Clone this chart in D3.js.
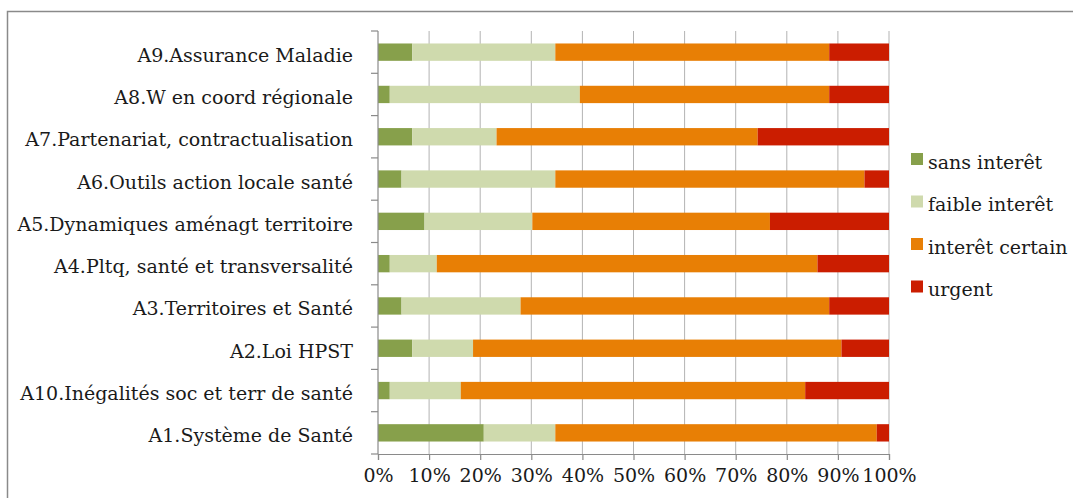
<!DOCTYPE html>
<html>
<head>
<meta charset="utf-8">
<script src="https://cdn.jsdelivr.net/npm/d3@7"></script>
<style>
  body { margin: 0; background: #fff; }
  svg text { font-family: "DejaVu Serif", serif; fill: #1a1a1a; }
</style>
</head>
<body>
<svg width="1073" height="498" class="chart"></svg>
<script>
// categories top to bottom
var categories = [
  "A9.Assurance Maladie",
  "A8.W en coord régionale",
  "A7.Partenariat, contractualisation",
  "A6.Outils action locale santé",
  "A5.Dynamiques aménagt territoire",
  "A4.Pltq, santé et transversalité",
  "A3.Territoires et Santé",
  "A2.Loi HPST",
  "A10.Inégalités soc et terr de santé",
  "A1.Système de Santé"
];
var seriesNames = ["sans interêt", "faible interêt", "interêt certain", "urgent"];
var sansInteret    = [6.7, 2.3, 6.7, 4.6, 9.1, 2.3, 4.6, 6.7, 2.3, 20.7];
var faibleInteret  = [28.0, 37.2, 16.5, 30.1, 21.1, 9.2, 23.3, 11.9, 13.9, 14.0];
var interetCertain = [53.6, 48.8, 51.1, 60.5, 46.5, 74.5, 60.4, 72.1, 67.4, 62.9];
var urgent         = [11.7, 11.7, 25.7, 4.8, 23.3, 14.0, 11.7, 9.3, 16.4, 2.4];
var tickLabels = ["0%", "10%", "20%", "30%", "40%", "50%", "60%", "70%", "80%", "90%", "100%"];
var colors = ["#87a04b", "#cfdaad", "#e87f05", "#cb1d00"];

var svg = d3.select(".chart"),
  margin = {top: 31, left: 378, right: 184, bottom: 44},
  width = 511,
  height = 423;

var rows = categories.map(function(c, i) {
  var vals = [sansInteret[i], faibleInteret[i], interetCertain[i], urgent[i]];
  var total = d3.sum(vals);
  var row = {name: c};
  seriesNames.forEach(function(s, j) { row[s] = vals[j] / total; });
  return row;
});

var stack = d3.stack().keys(seriesNames)(rows);

var x = d3.scaleLinear().domain([0, 1]).range([0, width]);
var y = d3.scaleBand().domain(categories).range([0, height])
  .paddingInner(0.59).paddingOuter(0.295);

// chart frame
svg.append("path")
  .attr("d", "M7.5,498V11.5H1073")
  .attr("fill", "none")
  .attr("stroke", "#8a8a8a")
  .attr("stroke-width", 1.5);

var g = svg.append("g")
  .attr("transform", "translate(" + margin.left + "," + margin.top + ")");

// grid
g.append("g")
  .selectAll("line")
  .data(d3.range(1, 11).map(function(d) { return d / 10; }))
  .enter().append("line")
  .attr("x1", function(d) { return x(d); })
  .attr("x2", function(d) { return x(d); })
  .attr("y1", 0)
  .attr("y2", height)
  .attr("stroke", "#b3b3b3")
  .attr("stroke-width", 1);

// bars
g.selectAll(".layer")
  .data(stack)
  .enter().append("g")
  .attr("class", "layer")
  .attr("fill", function(d, i) { return colors[i]; })
  .selectAll("rect")
  .data(function(d) { return d; })
  .enter().append("rect")
  .attr("x", function(d) { return x(d[0]); })
  .attr("width", function(d) { return x(d[1]) - x(d[0]); })
  .attr("y", function(d) { return y(d.data.name); })
  .attr("height", y.bandwidth());

// y axis: line + ticks at category boundaries
var step = y.step();
g.append("line")
  .attr("x1", 0).attr("x2", 0).attr("y1", 0).attr("y2", height)
  .attr("stroke", "#8a8a8a").attr("stroke-width", 1.2);
g.append("g")
  .selectAll("line")
  .data(d3.range(categories.length + 1))
  .enter().append("line")
  .attr("x1", -7).attr("x2", 0)
  .attr("y1", function(d) { return d * step; })
  .attr("y2", function(d) { return d * step; })
  .attr("stroke", "#8a8a8a").attr("stroke-width", 1.2);
g.append("g")
  .selectAll("text")
  .data(categories)
  .enter().append("text")
  .attr("x", -25)
  .attr("y", function(d) { return y(d) + y.bandwidth() / 2; })
  .attr("dy", "0.5em")
  .attr("text-anchor", "end")
  .style("font-size", "19px")
  .text(function(d) { return d; });

// x axis
var xAxis = g.append("g")
  .attr("transform", "translate(0," + height + ")")
  .call(d3.axisBottom(x).tickValues(d3.range(0, 11).map(function(d) { return d / 10; }))
    .tickSize(6).tickPadding(9)
    .tickFormat(function(d, i) { return tickLabels[i]; }));
xAxis.select(".domain").attr("stroke", "#8a8a8a").attr("stroke-width", 1.2);
xAxis.selectAll(".tick line").attr("stroke", "#8a8a8a").attr("stroke-width", 1.2);
xAxis.selectAll(".tick text")
  .style("font-family", "DejaVu Serif, serif")
  .style("font-size", "19px")
  .attr("fill", "#1a1a1a");

// legend
var legend = svg.append("g")
  .attr("transform", "translate(911,159)");
var item = legend.selectAll("g")
  .data(seriesNames)
  .enter().append("g")
  .attr("transform", function(d, i) { return "translate(0," + i * 42.5 + ")"; });
item.append("rect")
  .attr("x", 0).attr("y", -6)
  .attr("width", 12).attr("height", 12)
  .attr("fill", function(d, i) { return colors[i]; });
item.append("text")
  .attr("x", 17).attr("y", 0).attr("dy", "0.5em")
  .style("font-size", "19px")
  .text(function(d) { return d; });
</script>
</body>
</html>
